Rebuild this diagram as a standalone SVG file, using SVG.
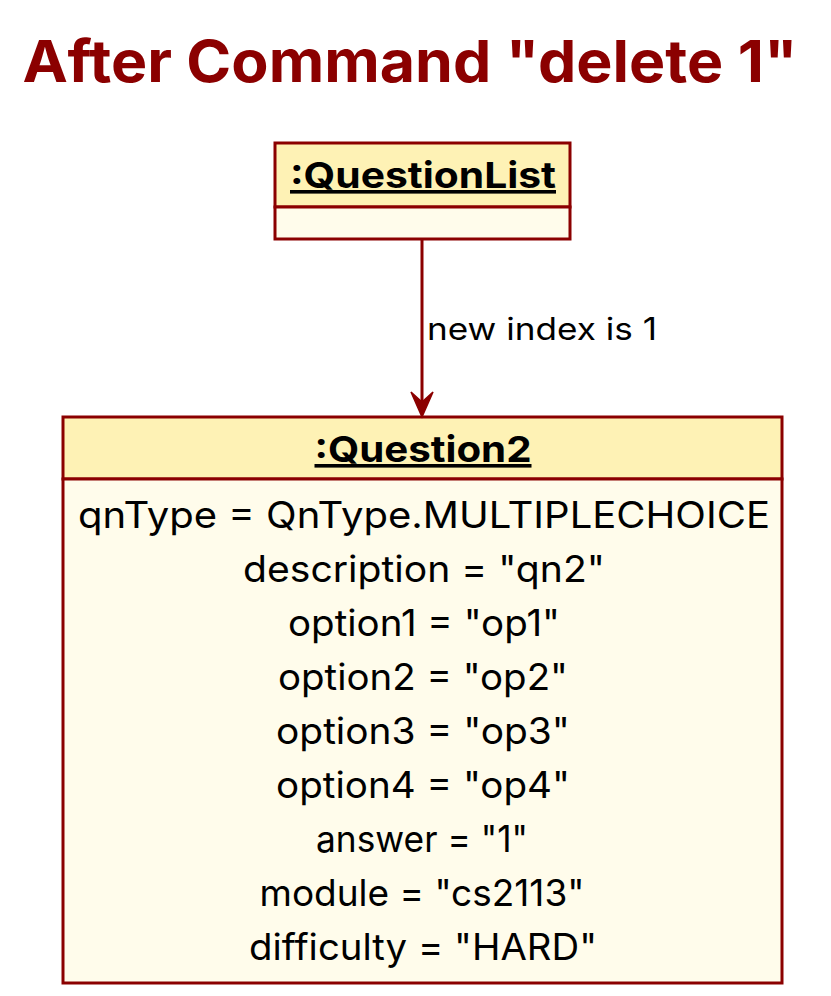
<svg xmlns="http://www.w3.org/2000/svg" width="831" height="996" viewBox="0 0 831 996">
<defs>
<style>
.t{font-family:Inter,"Noto Sans",sans-serif;fill:#000;text-anchor:middle}
.b{stroke:#8B0000;stroke-width:3}
.hd{fill:#FEF2B5}
.bd{fill:#FFFCEB}
.attr{font-size:37px}
.name{font-size:36px;font-weight:bold;text-decoration:underline}
</style>
</defs>
<rect width="831" height="996" fill="#fff"/>
<text x="410" y="82" font-family="Inter,'Noto Sans',sans-serif" font-size="58" font-weight="bold" fill="#8B0000" text-anchor="middle" textLength="775" lengthAdjust="spacingAndGlyphs">After Command "delete 1"</text>
<g id="questionlist">
<rect class="b hd" x="275" y="143" width="295" height="64"/>
<rect class="b bd" x="275" y="207" width="295" height="32"/>
<text class="t name" x="423" y="188" textLength="266" lengthAdjust="spacingAndGlyphs">:QuestionList</text>
</g>
<g id="question2">
<rect class="b hd" x="63" y="417" width="719" height="62"/>
<rect class="b bd" x="63" y="479" width="719" height="504"/>
<text class="t name" x="423" y="462" textLength="217" lengthAdjust="spacingAndGlyphs">:Question2</text>
<g class="t attr">
<text x="424" y="528" textLength="692" lengthAdjust="spacingAndGlyphs">qnType = QnType.MULTIPLECHOICE</text>
<text x="424" y="582" textLength="362" lengthAdjust="spacingAndGlyphs">description = "qn2"</text>
<text x="424" y="636" textLength="272" lengthAdjust="spacingAndGlyphs">option1 = "op1"</text>
<text x="423" y="690" textLength="290" lengthAdjust="spacingAndGlyphs">option2 = "op2"</text>
<text x="423" y="744" textLength="294" lengthAdjust="spacingAndGlyphs">option3 = "op3"</text>
<text x="423" y="798" textLength="294" lengthAdjust="spacingAndGlyphs">option4 = "op4"</text>
<text x="422" y="852" textLength="212" lengthAdjust="spacingAndGlyphs">answer = "1"</text>
<text x="422" y="906" textLength="325" lengthAdjust="spacingAndGlyphs">module = "cs2113"</text>
<text x="423" y="960" textLength="348" lengthAdjust="spacingAndGlyphs">difficulty = "HARD"</text>
</g>
</g>
<g id="connectors">
<line x1="422" y1="240" x2="422" y2="412" stroke="#8B0000" stroke-width="3"/>
<path d="M422,417 L411,392 L422,402 L433,392 Z" fill="#8B0000" stroke="#8B0000" stroke-width="1.5"/>
<text x="427" y="340" font-family="Inter,'Noto Sans',sans-serif" font-size="31" fill="#000" textLength="230" lengthAdjust="spacingAndGlyphs">new index is 1</text>
</g>
</svg>
